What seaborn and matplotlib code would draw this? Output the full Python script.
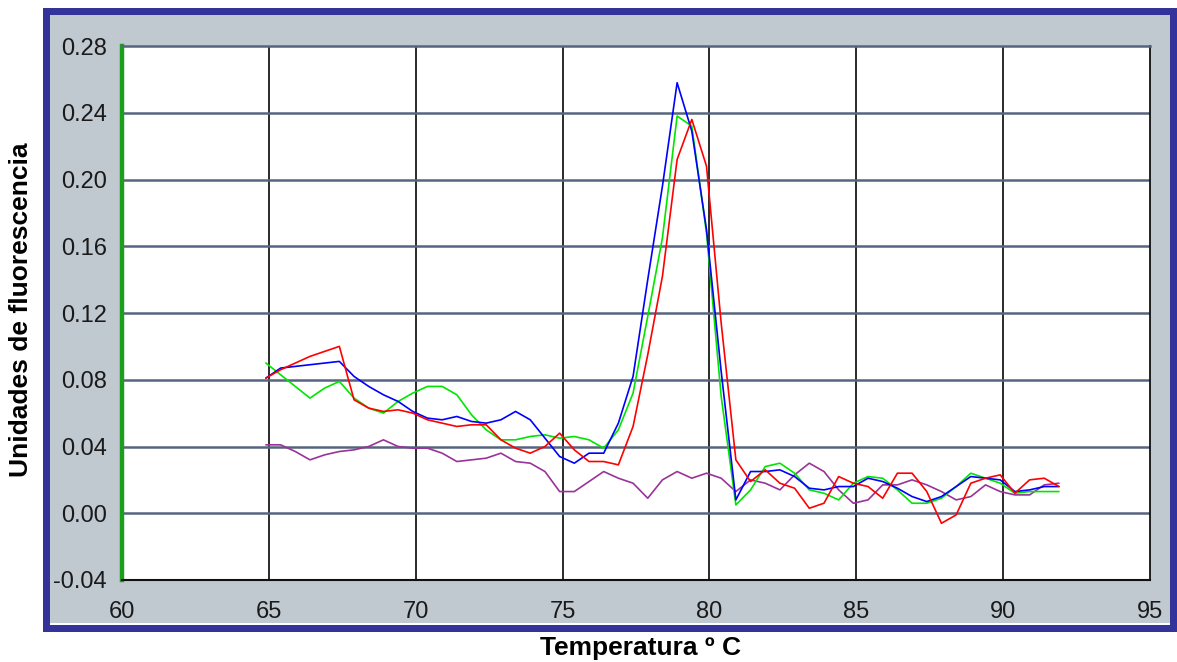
import matplotlib
matplotlib.use("Agg")
import matplotlib.pyplot as plt
from matplotlib import font_manager as fm
from matplotlib.patches import Rectangle
import pandas as pd
import seaborn as sns

# ---------------- data ----------------
temperatura = [64.9, 65.4, 65.9, 66.4, 66.9, 67.4, 67.9, 68.4, 68.9, 69.4,
               69.9, 70.4, 70.9, 71.4, 71.9, 72.4, 72.9, 73.4, 73.9, 74.4,
               74.9, 75.4, 75.9, 76.4, 76.9, 77.4, 77.9, 78.4, 78.9, 79.4,
               79.9, 80.4, 80.9, 81.4, 81.9, 82.4, 82.9, 83.4, 83.9, 84.4,
               84.9, 85.4, 85.9, 86.4, 86.9, 87.4, 87.9, 88.4, 88.9, 89.4,
               89.9, 90.4, 90.9, 91.4, 91.9]

rojo = [0.081, 0.086, 0.090, 0.094, 0.097, 0.100, 0.068, 0.063, 0.061, 0.062,
        0.060, 0.056, 0.054, 0.052, 0.053, 0.053, 0.044, 0.039, 0.036, 0.040,
        0.048, 0.038, 0.031, 0.031, 0.029, 0.052, 0.095, 0.142, 0.212, 0.236,
        0.208, 0.114, 0.032, 0.019, 0.026, 0.018, 0.015, 0.003, 0.006, 0.022,
        0.018, 0.016, 0.009, 0.024, 0.024, 0.013, -0.006, -0.001, 0.018, 0.021,
        0.023, 0.012, 0.020, 0.021, 0.016]

azul = [0.081, 0.087, 0.088, 0.089, 0.090, 0.091, 0.082, 0.076, 0.071, 0.067,
        0.061, 0.057, 0.056, 0.058, 0.055, 0.054, 0.056, 0.061, 0.056, 0.045,
        0.034, 0.030, 0.036, 0.036, 0.054, 0.082, 0.140, 0.196, 0.258, 0.229,
        0.170, 0.085, 0.008, 0.025, 0.025, 0.026, 0.022, 0.015, 0.014, 0.016,
        0.016, 0.021, 0.019, 0.015, 0.010, 0.007, 0.010, 0.016, 0.022, 0.021,
        0.020, 0.013, 0.014, 0.016, 0.016]

verde = [0.090, 0.083, 0.076, 0.069, 0.075, 0.079, 0.069, 0.063, 0.060, 0.067,
         0.072, 0.076, 0.076, 0.071, 0.059, 0.050, 0.044, 0.044, 0.046, 0.047,
         0.045, 0.046, 0.044, 0.039, 0.050, 0.072, 0.118, 0.165, 0.238, 0.232,
         0.168, 0.070, 0.005, 0.014, 0.028, 0.030, 0.024, 0.014, 0.012, 0.008,
         0.018, 0.022, 0.021, 0.014, 0.006, 0.006, 0.009, 0.016, 0.024, 0.021,
         0.018, 0.012, 0.013, 0.013, 0.013]

morado = [0.041, 0.041, 0.037, 0.032, 0.035, 0.037, 0.038, 0.040, 0.044, 0.040,
          0.039, 0.039, 0.036, 0.031, 0.032, 0.033, 0.036, 0.031, 0.030, 0.025,
          0.013, 0.013, 0.019, 0.025, 0.021, 0.018, 0.009, 0.020, 0.025, 0.021,
          0.024, 0.021, 0.013, 0.020, 0.018, 0.014, 0.023, 0.030, 0.025, 0.014,
          0.006, 0.008, 0.017, 0.017, 0.020, 0.017, 0.013, 0.008, 0.010, 0.017,
          0.013, 0.011, 0.011, 0.017, 0.018]

series = {"morado": morado, "verde": verde, "azul": azul, "rojo": rojo}
colores = {"morado": "#993399", "verde": "#00E600", "azul": "#0000FF", "rojo": "#FF0000"}

x_ticks = [60, 65, 70, 75, 80, 85, 90, 95]
y_ticks = [-0.04, 0.00, 0.04, 0.08, 0.12, 0.16, 0.20, 0.24, 0.28]

rows = []
for nombre, vals in series.items():
    for t, v in zip(temperatura, vals):
        rows.append({"Temperatura": t, "Fluorescencia": v, "Muestra": nombre})
df = pd.DataFrame(rows)

# ---------------- styling ----------------
sns.set_style("white")
names = {f.name for f in fm.fontManager.ttflist}
tick_family = "Liberation Sans Narrow" if "Liberation Sans Narrow" in names else "Liberation Sans"
tick_size = 19 if tick_family == "Liberation Sans Narrow" else 17
plt.rcParams["font.family"] = ["Liberation Sans", "DejaVu Sans"]

W, H = 1177, 662
fig = plt.figure(figsize=(W / 100, H / 100), dpi=100)
fig.patch.set_facecolor("white")

# outer frame: blue border, grey panel
fig.add_artist(Rectangle((43 / W, 1 - 632 / H), (1177 - 43) / W, (632 - 8) / H,
                         transform=fig.transFigure, facecolor="#333399",
                         edgecolor="none", zorder=-3))
fig.add_artist(Rectangle((50 / W, 1 - 625 / H), (1170 - 50) / W, (625 - 15) / H,
                         transform=fig.transFigure, facecolor="white",
                         edgecolor="none", zorder=-2))
fig.add_artist(Rectangle((50 / W, 1 - 623 / H), (1170 - 50) / W, (623 - 15) / H,
                         transform=fig.transFigure, facecolor="#C0C8D0",
                         edgecolor="none", zorder=-1))

ax = fig.add_axes([122 / W, 1 - 580 / H, (1150 - 122) / W, (580 - 46) / H])
ax.set_facecolor("white")

# grid
for xv in x_ticks[1:-1]:
    ax.axvline(xv, color="#1a1a1a", lw=1.3, zorder=1)
for yv in y_ticks[1:-1]:
    ax.axhline(yv, color="#56657F", lw=1.8, zorder=1)

sns.lineplot(data=df, x="Temperatura", y="Fluorescencia", hue="Muestra",
             palette=colores, estimator=None, sort=False, lw=1.2,
             legend=False, ax=ax, zorder=3)

ax.set_xlim(60, 95)
ax.set_ylim(-0.04, 0.28)
ax.set_xticks(x_ticks)
ax.set_yticks(y_ticks)
ax.set_xticklabels([str(v) for v in x_ticks])
ax.set_yticklabels([f"{v:.2f}" for v in y_ticks])
ax.tick_params(axis="both", length=0, labelsize=tick_size, colors="#1a1a1a")
ax.tick_params(axis="y", pad=11)
ax.tick_params(axis="x", pad=15)
for lab in ax.get_xticklabels() + ax.get_yticklabels():
    lab.set_family([tick_family, "DejaVu Sans"])
ax.set_xlabel("")
ax.set_ylabel("")

ax.spines["left"].set_color("#1E9E1E")
ax.spines["left"].set_linewidth(3.2)
ax.spines["bottom"].set_color("#111111")
ax.spines["bottom"].set_linewidth(1.5)
ax.spines["right"].set_color("#111111")
ax.spines["right"].set_linewidth(1.3)
ax.spines["top"].set_color("#56657F")
ax.spines["top"].set_linewidth(1.8)

fig.text(21 / W, 1 - 310 / H, "Unidades de fluorescencia", rotation=90,
         ha="center", va="center", fontsize=19, fontweight="bold", color="black")
fig.text(640 / W, 1 - 648 / H, "Temperatura º C", ha="center", va="center",
         fontsize=19, fontweight="bold", color="black")

fig.savefig("out.png", dpi=100)
